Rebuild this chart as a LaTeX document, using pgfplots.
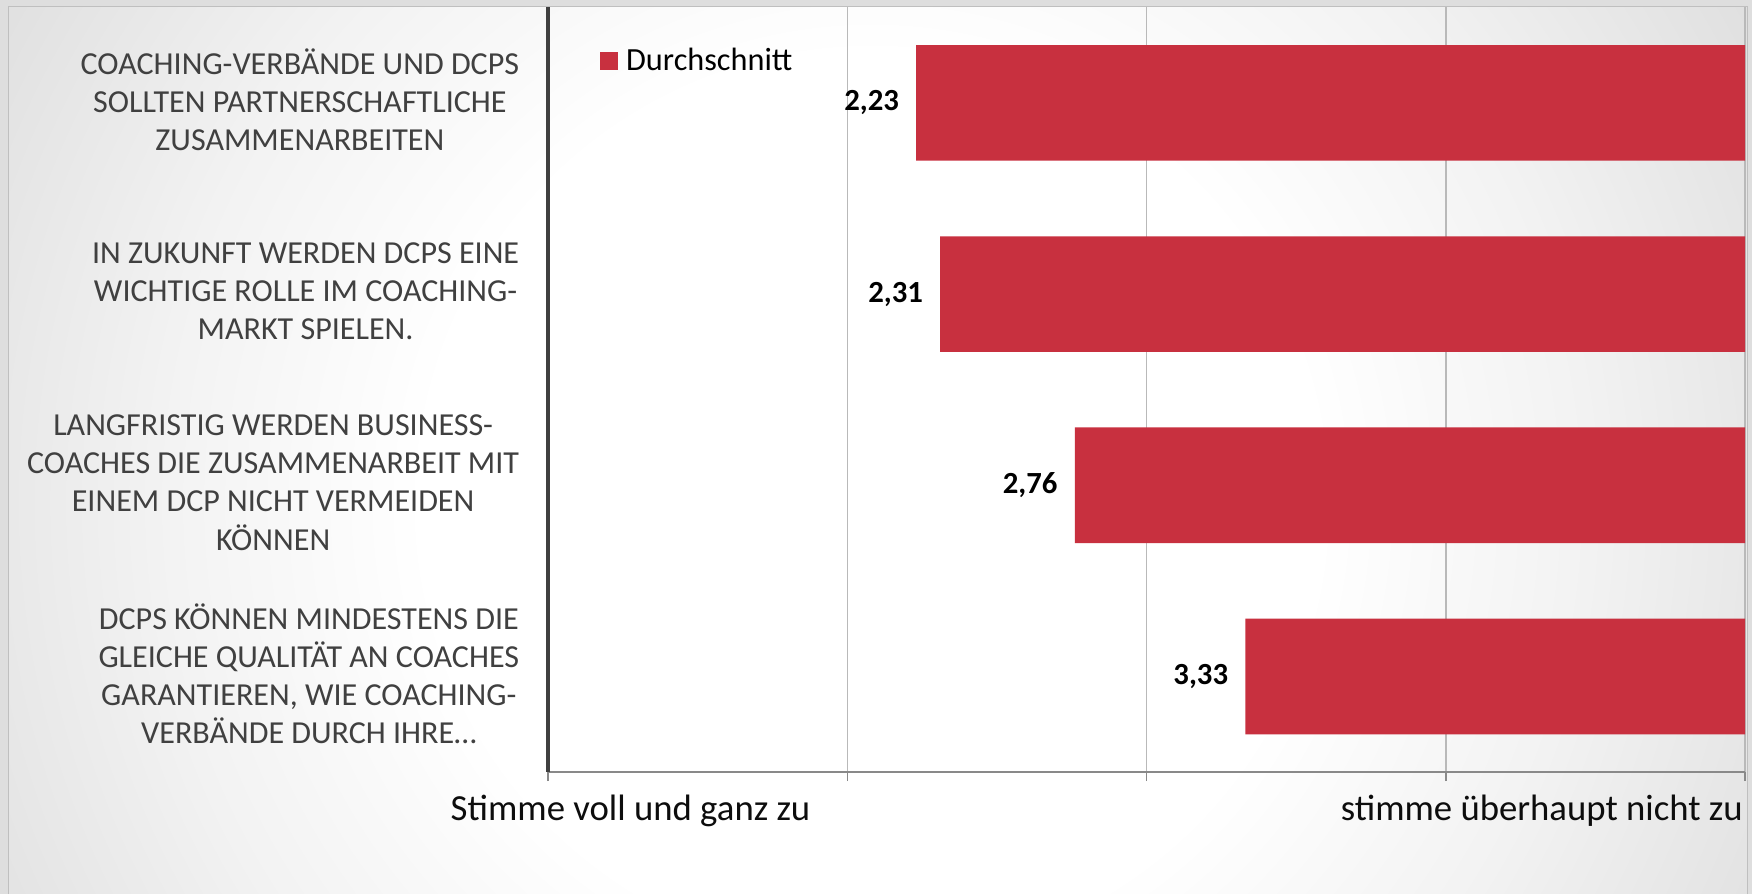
\documentclass[border=0pt]{standalone}
\usepackage{fontspec}
\setmainfont{Carlito}
\usepackage{pgfplots}
\pgfplotsset{compat=1.18}
\definecolor{barred}{RGB}{200,48,63}
\definecolor{labelgray}{RGB}{64,64,64}
\definecolor{axisdark}{RGB}{64,64,64}
\definecolor{axisgray}{RGB}{137,137,137}
\definecolor{gridgray}{RGB}{185,185,185}
\definecolor{framegray}{RGB}{222,222,222}
\pgfdeclareradialshading{bgshade}{\pgfpoint{0bp}{0bp}}{rgb(0bp)=(1,1,1); rgb(10bp)=(1,1,1); rgb(16bp)=(0.95,0.95,0.95); rgb(25bp)=(0.85,0.85,0.85); rgb(37bp)=(0.78,0.78,0.78); rgb(47bp)=(0.74,0.74,0.74); rgb(50bp)=(0.73,0.73,0.73)}
\pgfplotsset{geom/.style={at={(245.25bp,54.5bp)}, anchor=south west,
  scale only axis, width=535.65bp, height=342.25bp,
  xmin=1, xmax=5, ymin=0.5, ymax=4.5, y dir=reverse}}

\begin{document}
\begin{tikzpicture}
\useasboundingbox (0,0) rectangle (784bp,400bp);
\fill[framegray] (0,0) rectangle (784bp,400bp);
\begin{scope}
\clip (3.75bp,0) rectangle (781.8bp,397.2bp);
\shade[shading=bgshade] (-110bp,-325bp) rectangle (890bp,675bp);
\end{scope}
\draw[gray!50, line width=0.5bp] (3.75bp,-1bp) -- (3.75bp,397.2bp) -- (781.8bp,397.2bp) -- (781.8bp,-1bp);
\begin{axis}[
  geom,
  clip mode=individual,
  xbar stacked, bar width=51.75bp,
  xtick={1,2,3,4,5}, xticklabels={{},{},{},{},{}},
  ytick={1,2,3,4},
  yticklabels={{COACHING-VERBÄNDE UND DCPS\\SOLLTEN PARTNERSCHAFTLICHE\\ZUSAMMENARBEITEN},{IN ZUKUNFT WERDEN DCPS EINE\\WICHTIGE ROLLE IM COACHING-\\MARKT SPIELEN.},{LANGFRISTIG WERDEN BUSINESS-\\COACHES DIE ZUSAMMENARBEIT MIT\\EINEM DCP NICHT VERMEIDEN\\KÖNNEN},{DCPS KÖNNEN MINDESTENS DIE\\GLEICHE QUALITÄT AN COACHES\\GARANTIEREN, WIE COACHING-\\VERBÄNDE DURCH IHRE…}},
  yticklabel style={align=center, font=\fontsize{14.4}{17.1}\selectfont, text=labelgray, inner sep=0pt, xshift=-8.75bp, yshift=1.2bp},
  tick align=outside, major tick length=4bp,
  xtick style={axisgray, line width=0.6bp},
  ytick style={draw=none},
  axis x line*=bottom, axis y line*=left,
  x axis line style={-, axisgray, line width=0.9bp},
  y axis line style={-, axisdark, line width=1.5bp},
  xmajorgrids, major grid style={gridgray, line width=0.6bp},
  legend style={at={(0.0434,0.930)}, anchor=west, draw=none, fill=none, inner sep=0pt, font=\fontsize{14.5}{17}\selectfont, text=black},
  legend image code/.code={\fill[#1] (0bp,-4bp) rectangle (8bp,4bp);},
]
\addplot[draw=none, fill=none, forget plot]
  coordinates {(2.23,1) (2.31,2) (2.76,3) (3.33,4)};
\addplot[fill=barred, draw=none]
  coordinates {(2.77,1) (2.69,2) (2.24,3) (1.67,4)};
\addlegendentry{\hspace{1.5bp}Durchschnitt}
\node[anchor=base west, xshift=-43.75bp, yshift=-21.5bp, font=\fontsize{16.5}{19}\selectfont, text=black!95, inner sep=0pt] at (axis cs:1,4.5) {Stimme voll und ganz zu};
\node[anchor=base east, xshift=-0.9bp, yshift=-21.5bp, font=\fontsize{16.5}{19}\selectfont, text=black!95, inner sep=0pt] at (axis cs:5,4.5) {stimme überhaupt nicht zu};
\end{axis}
\begin{axis}[
  geom, hide axis, clip=false,
  /pgf/number format/assume math mode=true,
  /pgf/number format/use comma,
  /pgf/number format/fixed,
  /pgf/number format/fixed zerofill,
  /pgf/number format/precision=2,
]
\addplot[draw=none, mark=none, point meta=explicit,
  nodes near coords, nodes near coords align={east},
  every node near coord/.append style={anchor=east, xshift=-7.5bp, inner sep=0pt, font=\fontsize{13.8}{16}\selectfont\bfseries, text=black}]
  coordinates {(2.23,1) [2.23] (2.31,2) [2.31] (2.76,3) [2.76] (3.33,4) [3.33]};
\end{axis}
\end{tikzpicture}
\end{document}
